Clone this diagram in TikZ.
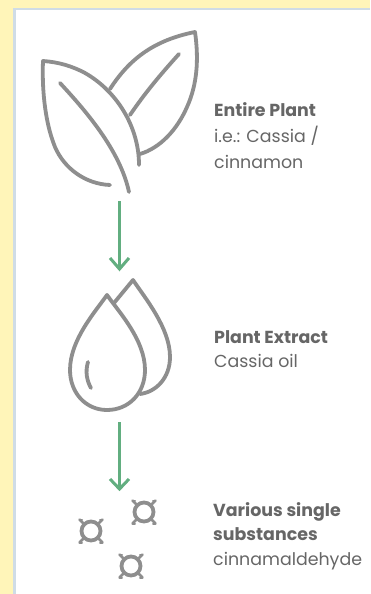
\documentclass[tikz,border=0pt]{standalone}
\usepackage{xcolor}
\usepackage{fontspec}
\setmainfont{Poppins}
\usepackage{tikz}
\definecolor{paleyellow}{HTML}{FFF5B9}
\definecolor{paneledge}{HTML}{CFDCE6}
\definecolor{icongray}{HTML}{8E8E8E}
\definecolor{arrowgreen}{HTML}{62AE80}
\definecolor{labelgray}{HTML}{666666}
\tikzset{
  icon/.style={draw=icongray,line width=3.8pt,line cap=round,line join=round},
  flowarrow/.style={draw=arrowgreen,line width=3pt,line join=miter},
  caption/.style={anchor=north west,align=left,inner sep=0pt,text=labelgray,
    font=\fontsize{17.4}{24.5}\selectfont}
}
\begin{document}
\begin{tikzpicture}[x=1pt,y=-1pt]
\useasboundingbox (0,0) rectangle (370,594);
% background and panel
\fill[paleyellow] (0,0) rectangle (370,594);
\fill[paneledge] (13,8) rectangle (370,594);
\fill[white] (16,10) rectangle (370,594);
% back leaf
\draw[icon] (110,89) .. controls (130,58) and (155,40) .. (195,32)
  .. controls (199,60) and (197,85) .. (187,107)
  .. controls (177,130) and (160,148) .. (140,154);
\draw[icon] (179,54) .. controls (160,75) and (145,93) .. (130,115);
% front leaf
\draw[icon] (139,165) .. controls (139,125) and (115,90) .. (85,73)
  .. controls (72,66) and (58,62) .. (43,61)
  .. controls (42,85) and (44,120) .. (55,147)
  .. controls (64,168) and (85,184) .. (110,185);
\draw[icon] (60,83) .. controls (85,110) and (120,150) .. (129,192);
% arrow plant to extract
\coordinate (plantend) at (119.5,201);
\coordinate (extracttop) at (119.5,269);
\draw[flowarrow] (plantend) -- (extracttop);
\draw[flowarrow] (110,258) -- (extracttop) -- (129,258);
% drops
\draw[icon] (107,295) .. controls (95,312) and (70,340) .. (70,370)
  .. controls (70,393) and (86,410) .. (107,410)
  .. controls (129,410) and (145,393) .. (145,370)
  .. controls (145,340) and (119,312) .. (107,295) -- cycle;
\draw[icon] (114,303) -- (133,280) .. controls (145,298) and (170,328) .. (170,357)
  .. controls (170,378) and (156,392) .. (140,394);
\draw[icon] (88,362) .. controls (85,372) and (87,381) .. (91,388);
% arrow extract to substances
\coordinate (extractend) at (119.5,422);
\coordinate (substancetop) at (119.5,489);
\draw[flowarrow] (extractend) -- (substancetop);
\draw[flowarrow] (110,479) -- (substancetop) -- (129,479);
% single substances
\foreach \cx/\cy in {144/512,91/531,131/566}{
  \draw[icon] (\cx,\cy) circle (9.5);
  \foreach \dx in {-1,1}\foreach \dy in {-1,1}{
    \draw[icon,line width=2.6pt] (\cx+\dx*8,\cy+\dy*8) -- (\cx+\dx*11.5,\cy+\dy*11.5);
    \draw[icon,line width=2pt] (\cx+\dx*9,\cy+\dy*11.5) -- (\cx+\dx*11.5,\cy+\dy*11.5);
  }
}
% labels
\node[caption,font=\fontsize{17.4}{26}\selectfont] (plantlabel) at (214,102) {\textbf{Entire Plant}\\i.e.: Cassia /\\cinnamon};
\node[caption] (extractlabel) at (214,330) {\textbf{Plant Extract}\\Cassia oil};
\node[caption] (substancelabel) at (213,502) {\textbf{Various single}\\\textbf{substances}\\cinnamaldehyde};
\end{tikzpicture}
\end{document}
